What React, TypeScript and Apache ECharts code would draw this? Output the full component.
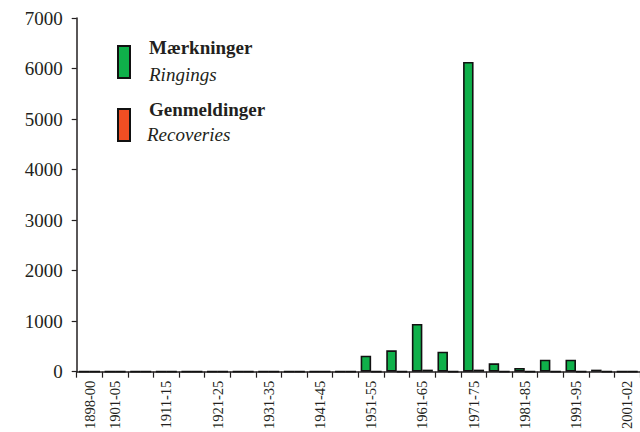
import React, { useEffect, useRef } from "react";
import * as echarts from "echarts";

const categories = [
  "1898-00", "1901-05", "1906-10", "1911-15", "1916-20", "1921-25", "1926-30",
  "1931-35", "1936-40", "1941-45", "1946-50", "1951-55", "1956-60", "1961-65",
  "1966-70", "1971-75", "1976-80", "1981-85", "1986-90", "1991-95", "1996-00", "2001-02",
];
const ringings = [0, 0, 0, 0, 0, 0, 0, 0, 0, 0, 0, 315, 422, 945, 395, 6130, 165, 73, 237, 237, 40, 0];
const recoveries = [0, 0, 0, 0, 0, 0, 0, 0, 0, 0, 0, 0, 0, 40, 0, 40, 0, 0, 0, 0, 0, 0];
const yTicks = [0, 7000, 1000];

const FONT = "Liberation Serif";
const GREEN = "#0fb04a";
const RED = "#f04e23";
const INK = "#231f20";

export default function App() {
  const ref = useRef<HTMLDivElement>(null);
  useEffect(() => {
    if (!ref.current) return;
    const chart = echarts.init(ref.current, null, { renderer: "svg" });
    chart.setOption({
      animation: false,
      backgroundColor: "#ffffff",
      textStyle: { fontFamily: FONT },
      grid: { left: 76.7, top: 18, width: 573, height: 354.7, containLabel: false },
      xAxis: {
        type: "category",
        data: categories,
        boundaryGap: true,
        axisLine: { lineStyle: { color: INK, width: 1.5 } },
        axisTick: { show: true, interval: 0, length: 6, lineStyle: { color: INK, width: 1.2 } },
        axisLabel: {
          rotate: 90,
          interval: (i: number) => i === 0 || i % 2 === 1,
          color: INK,
          fontFamily: FONT,
          fontSize: 14.5,
          margin: 9,
        },
        splitLine: { show: false },
      },
      yAxis: {
        type: "value",
        min: yTicks[0],
        max: yTicks[1],
        interval: yTicks[2],
        axisLine: { show: true, lineStyle: { color: INK, width: 1.5 } },
        axisTick: { show: true, length: 5, lineStyle: { color: INK, width: 1.2 } },
        axisLabel: { color: INK, fontFamily: FONT, fontSize: 19, margin: 14, formatter: (v: number) => String(v) },
        splitLine: { show: false },
      },
      series: [
        {
          name: "Mærkninger",
          type: "bar",
          data: ringings,
          barWidth: 10.5,
          barGap: "0%",
          itemStyle: { color: GREEN, borderColor: "#111", borderWidth: 1.6 },
        },
        {
          name: "Genmeldinger",
          type: "bar",
          data: recoveries,
          barWidth: 10.5,
          barGap: "0%",
          itemStyle: { color: RED, borderColor: "#111", borderWidth: 1.6 },
        },
      ],
      graphic: [
        { type: "rect", left: 117, top: 45, shape: { width: 12, height: 32 }, style: { fill: GREEN, stroke: "#111", lineWidth: 2 } },
        { type: "rect", left: 117, top: 108, shape: { width: 12, height: 32 }, style: { fill: RED, stroke: "#111", lineWidth: 2 } },
        { type: "text", x: 149, y: 38, style: { text: "Mærkninger", fontFamily: FONT, fontWeight: "bold", fontSize: 19, fill: INK, textVerticalAlign: "top" } },
        { type: "text", x: 149, y: 65, style: { text: "Ringings", fontFamily: FONT, fontStyle: "italic", fontSize: 19, fill: INK, textVerticalAlign: "top" } },
        { type: "text", x: 149, y: 100, style: { text: "Genmeldinger", fontFamily: FONT, fontWeight: "bold", fontSize: 19, fill: INK, textVerticalAlign: "top" } },
        { type: "text", x: 147, y: 125, style: { text: "Recoveries", fontFamily: FONT, fontStyle: "italic", fontSize: 19, fill: INK, textVerticalAlign: "top" } },
      ],
    });
    return () => chart.dispose();
  }, []);
  return (
    <div style={{ position: "absolute", left: 0, top: 0, width: 640, height: 432, overflow: "hidden" }}>
      <div ref={ref} style={{ width: 640, height: 432 }} />
    </div>
  );
}
